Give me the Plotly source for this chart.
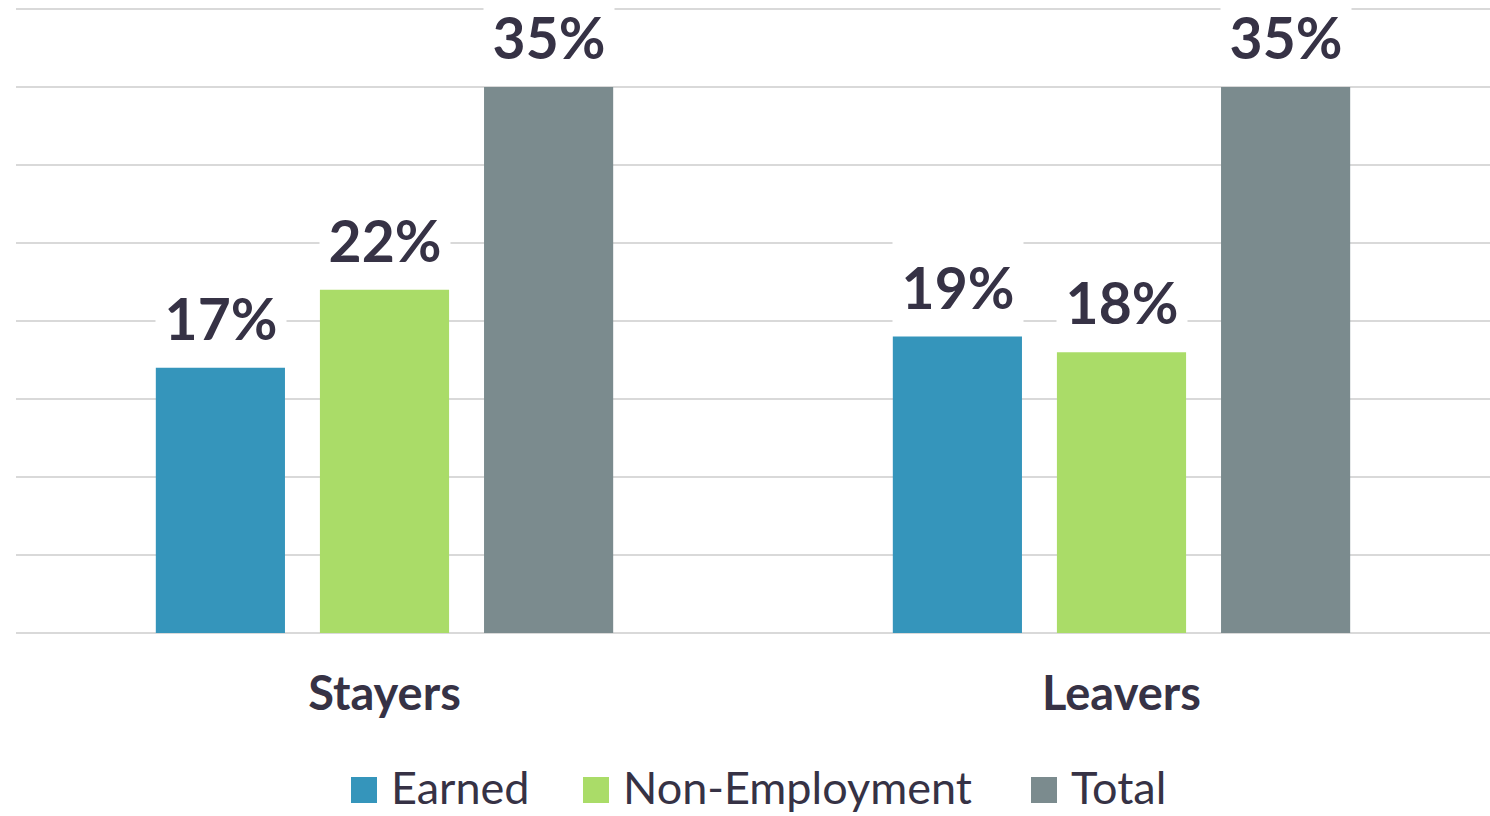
import plotly.graph_objects as go

categories = ["Stayers", "Leavers"]
series_names = ["Earned", "Non-Employment", "Total"]
earned = [17, 19]
non_employment = [22, 18]
total = [35, 35]
colors = ["#3595bb", "#aadc68", "#7b8b8e"]
text_color = "#363245"

values = [earned, non_employment, total]

W, H = 1490, 816
M_L, M_R, M_T, M_B = 16, 0, 4, 183
PW, PH = W - M_L - M_R, H - M_T - M_B
Y_TOP = PH / 15.6  # 15.6 px per percentage point -> gridlines at 5% steps 78px apart

fig = go.Figure()
for name, vals, col in zip(series_names, values, colors):
    fig.add_trace(go.Bar(
        x=categories, y=vals, name=name, marker=dict(color=col, line=dict(width=0)),
        showlegend=False,
    ))

# data labels (annotations with white background)
bar_pitch = 164  # px between bar centers within group
for i, (name, vals) in enumerate(zip(series_names, values)):
    for cat, v in zip(categories, vals):
        fig.add_annotation(
            x=cat, y=v, xref="x", yref="y", text=f"{v}%",
            xshift=(i - 1) * bar_pitch, yshift=2,
            yanchor="bottom", xanchor="center",
            showarrow=False, bgcolor="white", width=128, height=92,
            valign="middle",
            font=dict(family="Lato", size=57, color=text_color, weight="bold"),
        )

# legend drawn as squares + labels (large swatches)
legend_square_x = [351, 583, 1031]   # px positions of swatches
def px_x(p):
    return (p - M_L) / PW
def px_y(p):
    return (H - M_B - p) / PH
for name, col, px in zip(series_names, colors, legend_square_x):
    fig.add_shape(type="rect", xref="paper", yref="paper",
                  x0=px_x(px), x1=px_x(px + 26),
                  y0=px_y(803), y1=px_y(777),
                  fillcolor=col, line=dict(width=0))
    fig.add_annotation(x=px_x(px + 38), y=px_y(787),
                       xref="paper", yref="paper", text=name, showarrow=False,
                       xanchor="left", yanchor="middle",
                       font=dict(family="Lato", size=45, color=text_color))

fig.update_layout(
    width=W, height=H,
    margin=dict(l=M_L, r=M_R, t=M_T, b=M_B, autoexpand=False),
    paper_bgcolor="white", plot_bgcolor="white",
    barmode="group", bargap=0.332, bargroupgap=0.213,
    showlegend=False,
    xaxis=dict(showgrid=False, showline=False, zeroline=False,
               tickfont=dict(family="Lato", size=47, color=text_color, weight="bold"),
               ticklabelstandoff=29),
    yaxis=dict(range=[0, Y_TOP], tickvals=[0, 5, 10, 15, 20, 25, 30, 35, 40],
               showgrid=True, gridcolor="#d9d9d9", gridwidth=2,
               showticklabels=False, zeroline=True, zerolinecolor="#d9d9d9", zerolinewidth=2,
               showline=False),
)

fig.write_html("out.html", config={"displayModeBar": False},
               post_script="document.body.style.margin='0';document.body.style.overflow='hidden';")
